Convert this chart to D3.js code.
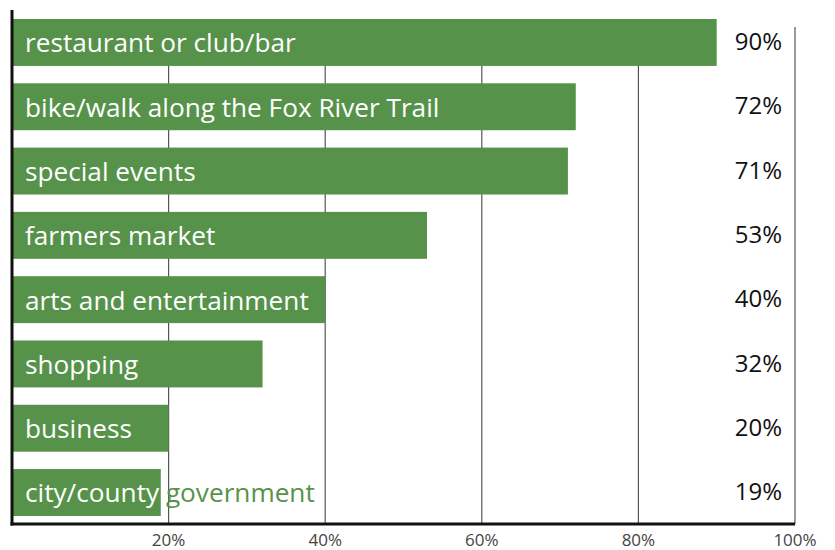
<!DOCTYPE html>
<html><head><meta charset="utf-8">
<script src="https://cdn.jsdelivr.net/npm/d3@7"></script>
<style>body{margin:0;background:#fff}</style>
</head><body>
<svg id="c" width="835" height="550"></svg>
<script>
const categories = ["restaurant or club/bar","bike/walk along the Fox River Trail","special events","farmers market","arts and entertainment","shopping","business","city/county government"];
const values = [90,72,71,53,40,32,20,19];
const valueLabels = ["90%","72%","71%","53%","40%","32%","20%","19%"];
const tickValues = [20,40,60,80,100];
const tickLabels = ["20%","40%","60%","80%","100%"];

const svg = d3.select("#c");
const green = "#56924a";
const x = d3.scaleLinear().domain([0,100]).range([12,795]);
const y = d3.scaleBand().domain(categories).range([19,516]).paddingInner(0.27).paddingOuter(0);
const axisY = 524;

// gridlines
svg.append("g").selectAll("line").data(tickValues).join("line")
  .attr("x1", d=>x(d)).attr("x2", d=>x(d))
  .attr("y1", 27).attr("y2", axisY)
  .attr("stroke", "#555").attr("stroke-width", 1.2);

// bars
const defs = svg.append("defs");
categories.forEach((c,i)=>{
  defs.append("clipPath").attr("id","clip"+i).append("rect")
    .attr("x", x(0)).attr("y", y(c)).attr("width", x(values[i])-x(0)).attr("height", y.bandwidth());
});
svg.append("g").selectAll("rect").data(categories).join("rect")
  .attr("x", x(0)).attr("y", d=>y(d))
  .attr("width", (d,i)=>x(values[i])-x(0)).attr("height", y.bandwidth())
  .attr("fill", green);

// labels: green base, white clipped to bar
const lab = svg.append("g").attr("font-family","'Open Sans', sans-serif").attr("font-size",26.2);
lab.selectAll("text.g").data(categories).join("text").attr("class","g")
  .attr("x", 25).attr("y", d=>y(d)+y.bandwidth()/2).attr("dy","0.38em")
  .attr("fill", green).text(d=>d);
lab.selectAll("text.w").data(categories).join("text").attr("class","w")
  .attr("x", 25).attr("y", d=>y(d)+y.bandwidth()/2).attr("dy","0.38em")
  .attr("clip-path",(d,i)=>`url(#clip${i})`)
  .attr("fill", "#fff").text(d=>d);

// value labels
svg.append("g").attr("font-family","'Open Sans', sans-serif").attr("font-size",24)
  .selectAll("text").data(categories).join("text")
  .attr("x", 782).attr("y", d=>y(d)+y.bandwidth()/2).attr("dy","0.32em")
  .attr("text-anchor","end").attr("fill","#111").text((d,i)=>valueLabels[i]);

// axes
svg.append("line").attr("x1", x(0)).attr("x2", x(0)).attr("y1", 10).attr("y2", axisY+1.5)
  .attr("stroke","#111").attr("stroke-width",3);
svg.append("line").attr("x1", x(0)-1.5).attr("x2", x(100)).attr("y1", axisY).attr("y2", axisY)
  .attr("stroke","#111").attr("stroke-width",3);

// tick labels
svg.append("g").attr("font-family","'Open Sans', sans-serif").attr("font-size",17)
  .selectAll("text").data(tickValues).join("text")
  .attr("x", d=>x(d)).attr("y", 546).attr("text-anchor","middle").attr("fill","#444")
  .text((d,i)=>tickLabels[i]);
</script>
</body></html>
